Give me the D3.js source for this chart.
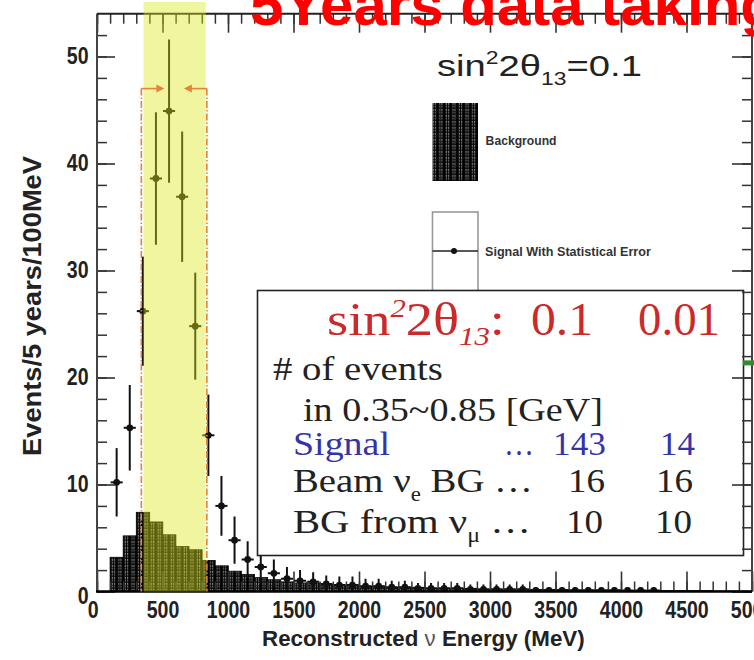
<!DOCTYPE html>
<html><head><meta charset="utf-8">
<script src="https://cdn.jsdelivr.net/npm/d3@7/dist/d3.min.js"></script>
<style>
html,body{margin:0;padding:0;background:#fff;overflow:hidden}
svg{display:block}
</style></head>
<body>
<svg id="chart" width="754" height="660" xmlns="http://www.w3.org/2000/svg"></svg>
<script>
// ---------------- data ----------------
const bgBinLow = [100,200,300,400,500,600,700,800,900,1000,1100,1200,1300,1400,1500,1600,1700,1800,1900,2000,
  2100,2200,2300,2400,2500,2600,2700,2800,2900,3000,3100,3200,3300,3400,3500,3600,3700,3800,3900,4000,
  4100,4200,4300,4400,4500,4600,4700,4800,4900];
const bgCounts = [3.2,5.2,7.4,6.5,5.3,4.2,3.9,2.9,2.4,1.9,1.6,1.3,1.1,0.9,0.8,0.8,0.7,0.6,0.6,0.5,
  0.5,0.4,0.4,0.4,0.3,0.3,0.3,0.3,0.2,0.2,0.2,0.2,0.2,0.2,0.2,0.15,0.15,0.15,0.15,0.1,
  0.1,0.1,0.1,0.1,0.1,0.1,0.05,0.05,0.05];
const binWidthMeV = 100;

const sigEnergy = [150,250,350,450,550,650,750,850,950,1050,1150,1250,1350,1450,1550,1650,1750,1850,1950,2050,
  2150,2250,2350,2450,2550,2650,2750,2850,2950,3050,3150,3250,3350,3450,3550,3650,3750,3850,3950,4050,4150,4250];
const sigCounts = [10.2,15.3,26.2,38.6,44.9,36.9,24.8,14.6,8.0,4.8,3.0,2.3,1.7,1.2,1.0,0.9,0.7,0.6,0.6,0.5,
  0.5,0.4,0.4,0.3,0.3,0.3,0.3,0.2,0.2,0.2,0.2,0.2,0.1,0.1,0.1,0.1,0.1,0.1,0.1,0.1,0.1,0.1];
const sigErrors = [3.2,4.0,5.1,6.2,6.7,6.1,5.0,3.8,2.8,2.2,1.7,1.5,1.3,1.1,1.0,0.9,0.8,0.8,0.8,0.7,
  0.7,0.6,0.6,0.5,0.5,0.5,0.5,0.45,0.45,0.45,0.45,0.45,0.3,0.3,0.3,0.3,0.3,0.3,0.3,0.3,0.3,0.3];

const xTickValues = [0,500,1000,1500,2000,2500,3000,3500,4000,4500,5000];
const yTickValues = [0,10,20,30,40,50];
const cutWindowMeV = [350, 850];
const bandMeV = [355, 830];
const cutArrowLevel = 47;

const titleText = "5Years data taking";
const xLabelParts = ["Reconstructed ", "\u03bd", " Energy (MeV)"];
const yLabelText = "Events/5 years/100MeV";
const legendLabels = ["Background", "Signal  With Statistical Error"];
const topNoteParts = [["sin",""],["2","sup"],["2\u03b8",""],["13","sub"],["=0.1",""]];

const tableHeaderParts = [["sin",""],["2","sup"],["2\u03b8",""],["13","sub"],[":",""]];
const tableHeaderValues = ["0.1","0.01"];
const tableIntro = ["# of events", "in 0.35~0.85 [GeV]"];
const tableRowLabels = [
  [["Signal",""]],
  [["Beam \u03bd",""],["e","sub"],[" BG \u2026",""]],
  [["BG from \u03bd",""],["\u03bc","sub"],["  \u2026",""]]
];
const tableSignalDots = "\u2026";
const tableCol1 = ["143","16","10"];
const tableCol2 = ["14","16","10"];

// ---------------- drawing ----------------
const svg = d3.select("#chart");
const W = 754, H = 660;
const x = d3.scaleLinear().domain([0,5000]).range([97,752]);
const y = d3.scaleLinear().domain([0,54]).range([591.5,13.7]);

const SANS = "'Liberation Sans', Arial, Helvetica, sans-serif";
const SERIF = "'Liberation Serif', 'Times New Roman', serif";

const defs = svg.append("defs");
const pw = (x(100)-x(0))/2;
const pat = defs.append("pattern").attr("id","hatch").attr("patternUnits","userSpaceOnUse")
  .attr("x", x(0)).attr("y", 0.5).attr("width", pw).attr("height", 6);
pat.append("rect").attr("width", pw).attr("height",6).attr("fill","#000");
[[1.6,0.6,1.1,1.6],[3.8,0.6,1.1,1.6],[1.6,3.6,1.1,1.1],[3.8,3.6,1.1,1.1]].forEach(r=>{
  pat.append("rect").attr("x",r[0]).attr("y",r[1]).attr("width",r[2]).attr("height",r[3])
    .attr("fill","#fff").attr("opacity",0.8);
});
defs.append("clipPath").attr("id","plotclip").append("rect")
  .attr("x", x(0)).attr("y", y(54)).attr("width", x(5000)-x(0)).attr("height", y(0)-y(54));

// helper: text fitted to a given width
function fitText(parent, px, py, width, parts, attrs, subSize, shift, italicSmall){
  const t = parent.append("text").attr("x",0).attr("y",0);
  Object.entries(attrs).forEach(([k,v])=>t.attr(k,v));
  let cur = 0;
  parts.forEach(([s,kind])=>{
    if(!s) return;
    const ts = t.append("tspan").text(s);
    let target = 0;
    if(kind==="sup"){ target = -shift[0]; ts.attr("font-size",subSize); if(italicSmall) ts.attr("font-style","italic"); }
    else if(kind==="sub"){ target = shift[1]; ts.attr("font-size",subSize); if(italicSmall) ts.attr("font-style","italic"); }
    else if(kind==="light"){ ts.attr("font-weight","normal").attr("fill","#555"); }
    ts.attr("dy", target-cur); cur = target;
  });
  const L = t.node().getComputedTextLength();
  t.attr("transform", `translate(${px},${py}) scale(${width/L},1)`);
  return t;
}

// background histogram
svg.append("g").attr("clip-path","url(#plotclip)")
  .selectAll("rect").data(bgBinLow).join("rect")
  .attr("x", d=>x(d)).attr("width", d=>x(d+binWidthMeV)-x(d)+0.3)
  .attr("y", (d,i)=>y(bgCounts[i])).attr("height",(d,i)=>y(0)-y(bgCounts[i]))
  .attr("fill","url(#hatch)").attr("stroke","#000").attr("stroke-width",0.8);

// signal with statistical errors
const sg = svg.append("g").attr("clip-path","url(#plotclip)");
const pts = sg.selectAll("g").data(sigEnergy).join("g");
pts.append("line").attr("x1",d=>x(d)).attr("x2",d=>x(d))
  .attr("y1",(d,i)=>y(sigCounts[i]-sigErrors[i])).attr("y2",(d,i)=>y(sigCounts[i]+sigErrors[i]))
  .attr("stroke","#111").attr("stroke-width",2);
pts.append("line").attr("x1",d=>x(d-binWidthMeV/2)+0.5).attr("x2",d=>x(d+binWidthMeV/2)-0.5)
  .attr("y1",(d,i)=>y(sigCounts[i])).attr("y2",(d,i)=>y(sigCounts[i]))
  .attr("stroke","#111").attr("stroke-width",2);
pts.append("circle").attr("cx",d=>x(d)).attr("cy",(d,i)=>y(sigCounts[i])).attr("r",3.4).attr("fill","#111");

// legend
const lg = svg.append("g");
lg.append("rect").attr("x",432.5).attr("y",103).attr("width",45.5).attr("height",78).attr("fill","url(#hatch)");
lg.append("rect").attr("x",432.5).attr("y",212).attr("width",45.5).attr("height",95)
  .attr("fill","#fff").attr("stroke","#999").attr("stroke-width",1.6);
lg.append("line").attr("x1",432.5).attr("x2",478).attr("y1",251).attr("y2",251).attr("stroke","#222").attr("stroke-width",1.6);
lg.append("circle").attr("cx",454).attr("cy",251).attr("r",3).attr("fill","#111");
fitText(lg, 485.6, 145, 71, [[legendLabels[0],""]], {"font-family":SANS,"font-weight":"bold","font-size":13,"fill":"#333"});
fitText(lg, 485, 256, 166, [[legendLabels[1],""]], {"font-family":SANS,"font-weight":"bold","font-size":13,"fill":"#333"});

// top note sin^2 2theta13 = 0.1
fitText(svg, 437, 76, 205, topNoteParts, {"font-family":SANS,"font-size":30,"fill":"#222"}, 18, [12,9]);

// info box
const box = svg.append("g");
box.append("rect").attr("x",257.5).attr("y",290.5).attr("width",486).attr("height",265)
  .attr("fill","#fff").attr("stroke","#222").attr("stroke-width",1.6);
const RED = "#cc2a2a", BLUE = "#3434a8", DARK = "#222";
fitText(box, 327, 335, 178, tableHeaderParts, {"font-family":SERIF,"font-size":46,"fill":RED}, 26, [18,10], true);
fitText(box, 531, 335, 62, [[tableHeaderValues[0],""]], {"font-family":SERIF,"font-size":46,"fill":RED});
fitText(box, 638, 335, 82, [[tableHeaderValues[1],""]], {"font-family":SERIF,"font-size":46,"fill":RED});
fitText(box, 273, 380, 170, [[tableIntro[0],""]], {"font-family":SERIF,"font-size":34,"fill":DARK});
fitText(box, 303, 421, 300, [[tableIntro[1],""]], {"font-family":SERIF,"font-size":34,"fill":DARK});
const rowY = [455, 492, 533];
const rowW = [97, 240, 238];
const col1X = [553, 568, 566], col1W = [53, 37, 37];
const col2X = [660, 656, 655], col2W = [35, 37, 37];
tableRowLabels.forEach((parts,i)=>{
  const col = i===0 ? BLUE : DARK;
  fitText(box, 293, rowY[i], rowW[i], parts, {"font-family":SERIF,"font-size":34,"fill":col}, 20, [12,9]);
  fitText(box, col1X[i], rowY[i], col1W[i], [[tableCol1[i],""]], {"font-family":SERIF,"font-size":34,"fill":col});
  fitText(box, col2X[i], rowY[i], col2W[i], [[tableCol2[i],""]], {"font-family":SERIF,"font-size":34,"fill":col});
});
fitText(box, 504, rowY[0], 30, [[tableSignalDots,""]], {"font-family":SERIF,"font-size":34,"fill":BLUE});

// axes
const axG = svg.append("g");
function styleTicks(g, col, w){ g.select(".domain").remove(); g.selectAll("line").attr("stroke",col).attr("stroke-width",w); }
// bottom
axG.append("g").attr("transform",`translate(0,${y(0)})`)
  .call(d3.axisBottom(x).tickValues(d3.range(0,5001,100)).tickSize(-10).tickFormat(""))
  .call(g=>styleTicks(g,"#333",1.5));
const gxb = axG.append("g").attr("transform",`translate(0,${y(0)})`)
  .call(d3.axisBottom(x).tickValues(xTickValues).tickSizeInner(-20).tickSizeOuter(0).tickPadding(10).tickFormat(d3.format("d")))
  .call(g=>styleTicks(g,"#333",1.6));
gxb.selectAll("text").attr("font-family",SANS).attr("font-weight","bold").attr("font-size",23)
  .attr("fill","#222").attr("transform","scale(0.85,1)");
gxb.selectAll("text").filter(d=>d===0).attr("x",-5);
// left
axG.append("g").attr("transform",`translate(${x(0)},0)`)
  .call(d3.axisLeft(y).tickValues(d3.range(0,54,2)).tickSize(-10).tickFormat(""))
  .call(g=>styleTicks(g,"#333",1.5));
const gyl = axG.append("g").attr("transform",`translate(${x(0)},0)`)
  .call(d3.axisLeft(y).tickValues(yTickValues).tickSizeInner(-18).tickSizeOuter(0).tickPadding(10).tickFormat(d3.format("d")))
  .call(g=>styleTicks(g,"#333",1.6));
gyl.selectAll("text").attr("font-family",SANS).attr("font-weight","bold").attr("font-size",23)
  .attr("fill","#222").attr("transform","scale(0.85,1)");
gyl.selectAll("text").filter(d=>d===0).attr("dy","0.5em");
// top
axG.append("g").attr("transform",`translate(0,${y(54)})`)
  .call(d3.axisTop(x).tickValues(d3.range(0,5001,100)).tickSize(-10).tickFormat(""))
  .call(g=>styleTicks(g,"#333",1.5));
axG.append("g").attr("transform",`translate(0,${y(54)})`)
  .call(d3.axisTop(x).tickValues(xTickValues).tickSize(-19).tickFormat(""))
  .call(g=>styleTicks(g,"#333",1.6));
// right
axG.append("g").attr("transform",`translate(${x(5000)},0)`)
  .call(d3.axisRight(y).tickValues(d3.range(0,54,2)).tickSize(-10).tickFormat(""))
  .call(g=>styleTicks(g,"#333",1.5));
axG.append("g").attr("transform",`translate(${x(5000)},0)`)
  .call(d3.axisRight(y).tickValues(yTickValues).tickSize(-20).tickFormat(""))
  .call(g=>styleTicks(g,"#333",1.6));
// frame
axG.append("line").attr("x1",x(0)).attr("x2",x(0)).attr("y1",y(54)).attr("y2",y(0)).attr("stroke","#444").attr("stroke-width",2);
axG.append("line").attr("x1",x(0)).attr("x2",x(5000)).attr("y1",y(54)).attr("y2",y(54)).attr("stroke","#222").attr("stroke-width",2);
axG.append("line").attr("x1",x(5000)).attr("x2",x(5000)).attr("y1",y(54)).attr("y2",y(0)).attr("stroke","#444").attr("stroke-width",2);
axG.append("line").attr("x1",x(0)-1).attr("x2",x(5000)).attr("y1",y(0)).attr("y2",y(0)).attr("stroke","#000").attr("stroke-width",2.6);

// small green mark at right edge (from neighbouring plot)
svg.append("rect").attr("x",x(4930)).attr("y",y(21.6)).attr("width",W-x(4930)).attr("height",5).attr("fill","#2e8b2e");

// axis titles
fitText(svg, 262, 646, 323, [[xLabelParts[0],""],[xLabelParts[1],"light"],[xLabelParts[2],""]],
  {"font-family":SANS,"font-weight":"bold","font-size":22,"fill":"#222"});
{
  const t = svg.append("text").attr("text-anchor","middle").attr("font-family",SANS).attr("font-weight","bold")
    .attr("font-size",25).attr("fill","#222").text(yLabelText);
  const L = t.node().getComputedTextLength();
  t.attr("transform",`translate(41,306) rotate(-90) scale(${300/L},1)`);
}

// selection band (semi-transparent yellow overlay)
svg.append("rect").attr("x",x(bandMeV[0])).attr("width",x(bandMeV[1])-x(bandMeV[0]))
  .attr("y",2).attr("height",y(0)-2).attr("fill","#dce61a").attr("opacity",0.42);

// cut window lines and arrows
const ORANGE = "#e3843a";
const cg = svg.append("g");
cutWindowMeV.forEach((e,i)=>{
  cg.append("line").attr("x1",x(e)-1.5).attr("x2",x(e)-1.5).attr("y1",y(cutArrowLevel)).attr("y2",y(0))
    .attr("stroke",ORANGE).attr("stroke-width",1.6).attr("stroke-dasharray","7,2,1.5,2");
  const dir = i===0 ? 1 : -1;
  const x0 = x(e)-1.5;
  const tip = x0 + dir*23;
  cg.append("line").attr("x1",x0).attr("x2",tip-dir*4).attr("y1",y(cutArrowLevel)).attr("y2",y(cutArrowLevel))
    .attr("stroke",ORANGE).attr("stroke-width",1.6);
  cg.append("path").attr("d",`M${tip},${y(cutArrowLevel)} L${tip-dir*8},${y(cutArrowLevel)-4} L${tip-dir*8},${y(cutArrowLevel)+4} Z`)
    .attr("fill",ORANGE);
});

// title
svg.append("text").attr("x",250).attr("y",25).attr("font-family",SANS).attr("font-weight","bold")
  .attr("font-size",60).attr("fill","#ff0000").text(titleText);
</script>
</body></html>
